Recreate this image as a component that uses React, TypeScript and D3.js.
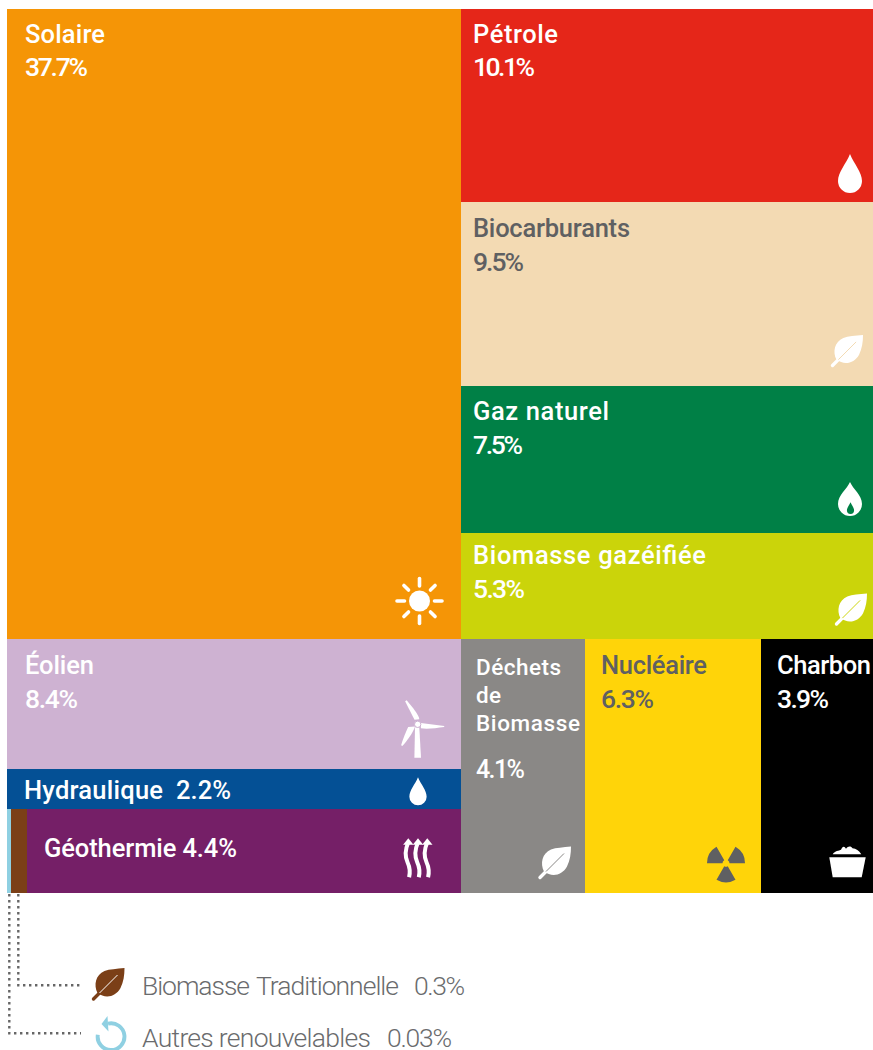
import * as d3 from "d3";

// shares in percent
const rightNames = ["Pétrole", "Biocarburants", "Gaz naturel", "Biomasse gazéifiée"];
const rightValues = [10.1, 9.5, 7.5, 5.3];
const leftNames = ["Éolien", "Hydraulique", "Géothermie"];
const leftValues = [8.4, 2.2, 4.4];
const bottomNames = ["Déchets de Biomasse", "Nucléaire", "Charbon"];
const bottomValues = [4.1, 6.3, 3.9];
const solarValue = 37.7;
const tradValue = 0.3;
const otherValue = 0.03;

const ORANGE = "#f59506";
const RED = "#e52619";
const BEIGE = "#f3dab3";
const GREEN = "#008046";
const LIME = "#cbd40a";
const LILAC = "#ceb2d2";
const BLUE = "#045095";
const PURPLE = "#751f67";
const GREY = "#8a8886";
const YELLOW = "#ffd409";
const BROWN = "#7b3f17";
const SKY = "#8fd0e2";
const DARK = "#5f6062";

const cumul = (vals: number[]) => [0, ...d3.cumsum(vals)];

// the stacks in the original are slightly off-proportion, so each scale has fitted stops
const yRight = d3.scaleLinear().domain(cumul(rightValues)).range([9, 202, 386, 533, 639]);
const yLeft = d3.scaleLinear().domain(cumul(leftValues)).range([639, 769, 809, 893]);
const xBottom = d3.scaleLinear().domain(cumul(bottomValues)).range([461, 585, 761, 873]);
const xTop = d3.scaleLinear().domain([0, solarValue]).range([7, 461]);
const xSmall = d3.scaleLinear().domain([0, otherValue, otherValue + tradValue]).range([7, 11, 27]);

const dropPath = "M0,-26 C-4,-16 -12,-8 -12,1 A12,12 0 0,0 12,1 C12,-8 4,-16 0,-26Z";
const flamePath = "M0,-25 C-3,-18 -12,-12 -12,-3 A12,12 0 0,0 12,-3 C12,-12 3,-18 0,-25Z";
const leafPath = "M32,0 C24,1 17,1 12,3 C3,7 1,17 5,25 C13,31 23,29 28,20 C31,14 32,7 32,0Z";

// widths are taken from the picture, the original type is tracked unevenly
function T({ x, y, w, size, children }: any) {
  return (
    <text x={x} y={y} textLength={w} lengthAdjust="spacing" fontSize={size}>
      {children}
    </text>
  );
}

function Label({ x, y, name, value, fill, nameW, valueW }: any) {
  return (
    <g fill={fill} fontSize={25.5} fontWeight={500}>
      <T x={x} y={y} w={nameW}>{name}</T>
      <T x={x} y={y + 33.5} w={valueW} size={26.5}>{value}%</T>
    </g>
  );
}

function Leaf({ x, y, size, fill, vein }: any) {
  const k = size / 32;
  return (
    <g transform={`translate(${x},${y}) scale(${k})`}>
      <path d={leafPath} fill={fill} />
      <line x1={1} y1={31} x2={10} y2={22} stroke={fill} strokeWidth={3.4} strokeLinecap="round" />
      <line x1={7} y1={25} x2={25} y2={7} stroke={vein} strokeWidth={1} />
    </g>
  );
}

function Sun({ x, y }: any) {
  const rays = d3.range(8).map((i) => (i * Math.PI) / 4);
  return (
    <g transform={`translate(${x},${y})`} stroke="#fff" strokeWidth={3.6} strokeLinecap="round">
      <circle r={10.5} fill="#fff" stroke="none" />
      {rays.map((a, i) => {
        const r0 = i % 2 ? 15.5 : 15;
        const r1 = i % 2 ? 22 : 22.5;
        return (
          <line key={i} x1={r0 * Math.cos(a)} y1={r0 * Math.sin(a)} x2={r1 * Math.cos(a)} y2={r1 * Math.sin(a)} />
        );
      })}
    </g>
  );
}

function Turbine({ x, y }: any) {
  return (
    <g transform={`translate(${x},${y})`} fill="#fff">
      <path d="M-2.7,3 L-3.3,33.5 L3.3,33.5 L1.6,3Z" />
      <path d="M-11,-24 L-12.6,-23 L-3.2,-4.5 L1.6,-5 C1.5,-9 -6,-18 -11,-24Z" />
      <path d="M3.2,-1.2 L26.5,1.6 L26.5,2.8 C18,4 9,5 3.2,4Z" />
      <path d="M-2.6,2.2 L-9.5,2.6 C-12,8 -15,15 -16.6,21 L-15.4,21.8 C-11,17 -5,9 -2.6,2.2Z" />
      <circle r={3.2} fill="#fff" stroke={LILAC} strokeWidth={1} />
    </g>
  );
}

function Heat({ x, y }: any) {
  return (
    <g transform={`translate(${x},${y})`}>
      {[0, 9.7, 19].map((dx) => (
        <g key={dx} transform={`translate(${dx},0)`}>
          <path d="M0,4 C-3.5,12 -3.5,18 -0.8,24 C2,30 2,34 0.8,39" fill="none" stroke="#fff" strokeWidth={4} />
          <path d="M0,0 L5.2,6.5 L-5.2,6.5Z" fill="#fff" />
        </g>
      ))}
    </g>
  );
}

function Radiation({ x, y }: any) {
  const arc = d3.arc().innerRadius(3.5).outerRadius(19);
  const deg = Math.PI / 180;
  const blades = [[-90, -30], [30, 90], [150, 210]];
  return (
    <g transform={`translate(${x},${y})`} fill={DARK}>
      {blades.map(([a, b], i) => (
        <path key={i} d={arc({ startAngle: a * deg, endAngle: b * deg } as any) as string} />
      ))}
    </g>
  );
}

function Coal({ x, y }: any) {
  return (
    <g transform={`translate(${x},${y})`} fill="#fff">
      <path d="M0.3,11.5 L36.7,11.5 L32.7,31.5 L3.7,31.5Z" />
      <path d="M3.7,8.5 C6,5 10,5 12,4 C13.5,0 15.5,0 17,3 C19,0 22,0 23.5,2.5 C27,2.5 30,5 32.3,8.5Z" />
    </g>
  );
}

function Recycle({ x, y }: any) {
  const r = 13.4;
  const a = (190 * Math.PI) / 180;
  return (
    <g transform={`translate(${x},${y})`}>
      <path
        d={`M-3,${-r} A${r},${r} 0 1,1 ${r * Math.cos(a)},${r * Math.sin(a)}`}
        fill="none"
        stroke={SKY}
        strokeWidth={3.9}
      />
      <path d="M-3.5,-21 L-2.5,-5.5 L-9.5,-13Z" fill={SKY} />
    </g>
  );
}

export default function App() {
  const xMid = xTop(solarValue);
  const topBottom = yRight(d3.sum(rightValues));
  const tint = [RED, BEIGE, GREEN, LIME];
  const geoLeft = xSmall(otherValue + tradValue);
  const geoTop = yLeft(leftValues[0] + leftValues[1]);
  const chartBottom = yLeft(d3.sum(leftValues));
  const wasteWords = bottomNames[0].split(" ");
  const wasteWidths = [85, 25, 104];

  return (
    <svg
      width={873}
      height={1050}
      style={{ position: "absolute", left: 0, top: 0, display: "block", overflow: "hidden" }}
      fontFamily="Roboto"
    >
      <rect x={xTop(0)} y={9} width={xTop(solarValue) - xTop(0)} height={topBottom - 9} fill={ORANGE} />
      {rightNames.map((n, i) => {
        const start = cumul(rightValues)[i];
        return (
          <rect
            key={n}
            x={xMid}
            y={yRight(start)}
            width={873 - xMid}
            height={yRight(start + rightValues[i]) - yRight(start)}
            fill={tint[i]}
          />
        );
      })}
      {[LILAC, BLUE].map((c, i) => {
        const start = cumul(leftValues)[i];
        return (
          <rect
            key={c}
            x={xTop(0)}
            y={yLeft(start)}
            width={xMid - xTop(0)}
            height={yLeft(start + leftValues[i]) - yLeft(start)}
            fill={c}
          />
        );
      })}
      <rect x={xSmall(0)} y={geoTop} width={xSmall(otherValue) - xSmall(0)} height={chartBottom - geoTop} fill={SKY} />
      <rect x={xSmall(otherValue)} y={geoTop} width={geoLeft - xSmall(otherValue)} height={chartBottom - geoTop} fill={BROWN} />
      <rect x={geoLeft} y={geoTop} width={xMid - geoLeft} height={chartBottom - geoTop} fill={PURPLE} />
      {[GREY, YELLOW, "#000"].map((c, i) => {
        const start = cumul(bottomValues)[i];
        return (
          <rect
            key={c}
            x={xBottom(start)}
            y={topBottom}
            width={xBottom(start + bottomValues[i]) - xBottom(start)}
            height={chartBottom - topBottom}
            fill={c}
          />
        );
      })}

      <Label x={25} y={42.5} name="Solaire" value={solarValue} fill="#fff" nameW={80} valueW={63} />
      <Label x={473} y={42.5} name={rightNames[0]} value={rightValues[0]} fill="#fff" nameW={85} valueW={62} />
      <Label x={473} y={237} name={rightNames[1]} value={rightValues[1]} fill={DARK} nameW={157} valueW={51} />
      <Label x={473} y={420} name={rightNames[2]} value={rightValues[2]} fill="#fff" nameW={136} valueW={50} />
      <Label x={473} y={564} name={rightNames[3]} value={rightValues[3]} fill="#fff" nameW={233} valueW={52} />
      <Label x={25} y={674} name={leftNames[0]} value={leftValues[0]} fill="#fff" nameW={69} valueW={53} />
      <g fill="#fff" fontSize={25.5} fontWeight={500}>
        <T x={24} y={799} w={139}>{leftNames[1]}</T>
        <T x={176} y={799} w={55}>{leftValues[1]}%</T>
        <T x={44} y={857} w={193}>{leftNames[2]} {leftValues[2]}%</T>
      </g>
      <g fill="#fff" fontSize={22.5} fontWeight={500}>
        {wasteWords.map((w, i) => (
          <T key={w} x={476} y={675 + i * 28} w={wasteWidths[i]}>{w}</T>
        ))}
        <T x={476} y={777.5} w={49} size={25}>{bottomValues[0]}%</T>
      </g>
      <Label x={601} y={674} name={bottomNames[1]} value={bottomValues[1]} fill={DARK} nameW={106} valueW={53} />
      <Label x={777} y={674} name={bottomNames[2]} value={bottomValues[2]} fill="#fff" nameW={94} valueW={52} />

      <Sun x={419.5} y={601} />
      <g fill="#fff">
        <path d={dropPath} transform="translate(850,180)" />
        <path d={flamePath} transform="translate(850,507)" />
        <path d={dropPath} transform="translate(418,796) scale(0.72)" />
      </g>
      <path d={dropPath} transform="translate(850.5,510) scale(0.3)" fill={GREEN} />
      <Leaf x={831.5} y={335} size={31.5} fill="#fff" vein={BEIGE} />
      <Leaf x={835.5} y={593.5} size={31.5} fill="#fff" vein={LIME} />
      <Leaf x={539} y={846.5} size={32} fill="#fff" vein={GREY} />
      <Turbine x={417.7} y={724.3} />
      <Heat x={408.3} y={838.3} />
      <Radiation x={726} y={863.3} />
      <Coal x={829} y={845.8} />

      <g fill="none" stroke="#666" strokeWidth={2.4} strokeDasharray="2.4 3.6">
        <path d="M9.3,894 V1033.3 H81" />
        <path d="M18.3,894 V985.3 H81" />
      </g>
      <Leaf x={92.5} y={968} size={32} fill={BROWN} vein="#fff" />
      <Recycle x={111} y={1037} />
      <g fill="#6a6b6d" fontSize={26.5} fontWeight={300}>
        <T x={142} y={994.5} w={108}>Biomasse</T>
        <T x={256} y={994.5} w={143}>Traditionnelle</T>
        <T x={414} y={994.5} w={51}>{tradValue}%</T>
        <T x={142} y={1046.5} w={229}>Autres renouvelables</T>
        <T x={387} y={1046.5} w={65}>{otherValue}%</T>
      </g>
    </svg>
  );
}
